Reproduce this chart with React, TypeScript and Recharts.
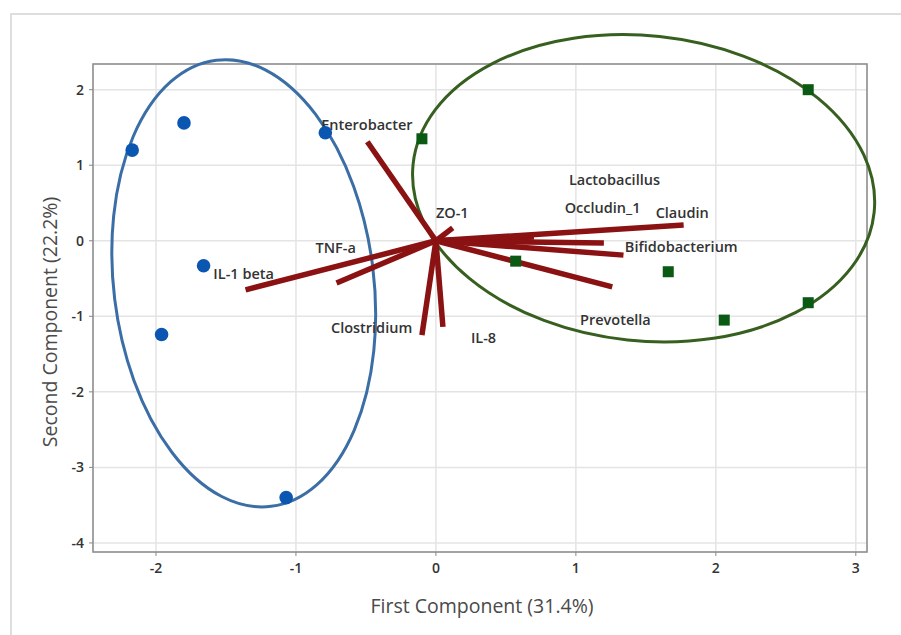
import React from 'react';
import {
  ScatterChart,
  Scatter,
  XAxis,
  YAxis,
  CartesianGrid,
  ReferenceLine,
  ReferenceArea,
  Label,
} from 'recharts';

// PCA biplot: sample scores for two groups plus variable loading vectors

const X_TICKS = [-2, -1, 0, 1, 2, 3];
const Y_TICKS = [-4, -3, -2, -1, 0, 1, 2];
const X_DOMAIN: [number, number] = [-2.45, 3.08];
const Y_DOMAIN: [number, number] = [-4.12, 2.34];

// group 1 scores (blue circles)
const GROUP1_X = [-2.17, -1.8, -0.79, -1.66, -1.96, -1.07];
const GROUP1_Y = [1.2, 1.56, 1.43, -0.33, -1.24, -3.4];

// group 2 scores (green squares)
const GROUP2_X = [-0.1, 2.66, 0.57, 1.66, 2.06, 2.66];
const GROUP2_Y = [1.35, 2.0, -0.27, -0.41, -1.05, -0.82];

// loading vectors
const VARIABLES = [
  'Enterobacter',
  'ZO-1',
  'TNF-a',
  'IL-1 beta',
  'Clostridium',
  'IL-8',
  'Lactobacillus',
  'Occludin_1',
  'Claudin',
  'Bifidobacterium',
  'Prevotella',
];
const LOAD_X = [-0.49, 0.12, -0.71, -1.36, -0.1, 0.05, 0.7, 1.2, 1.77, 1.34, 1.26];
const LOAD_Y = [1.31, 0.17, -0.56, -0.65, -1.25, -1.14, 0.05, -0.03, 0.21, -0.19, -0.61];

// where each variable name sits (left edge, vertical middle)
const LABEL_X = [-0.82, 0.0, -0.86, -1.59, -0.75, 0.25, 0.95, 0.92, 1.57, 1.35, 1.03];
const LABEL_Y = [1.53, 0.37, -0.09, -0.44, -1.15, -1.29, 0.81, 0.44, 0.37, -0.08, -1.05];

// group ellipses: centre, semi-axes (data units), tilt in degrees
const ELLIPSE_CX = [-1.373, 1.484];
const ELLIPSE_CY = [-0.563, 0.695];
const ELLIPSE_RX = [0.929, 1.656];
const ELLIPSE_RY = [2.975, 2.02];
const ELLIPSE_TILT = [-7, 6];
const ELLIPSE_COLORS = ['#3b6ea5', '#375f1f'];

const group1 = GROUP1_X.map((x, i) => ({ x, y: GROUP1_Y[i] }));
const group2 = GROUP2_X.map((x, i) => ({ x, y: GROUP2_Y[i] }));
const labels = VARIABLES.map((name, i) => ({ x: LABEL_X[i], y: LABEL_Y[i], name }));

const FONT = '"Open Sans", "Noto Sans", sans-serif';
const TICK = { fill: '#333', fontSize: 14, fontWeight: 600, fontFamily: FONT };

const BlueDot = (p: any) => <circle cx={p.cx} cy={p.cy} r={6.8} fill="#0b56b0" />;
const GreenSquare = (p: any) => (
  <rect x={p.cx - 5.5} y={p.cy - 5.5} width={11} height={11} fill="#0a5a14" />
);
const VarLabel = (p: any) => (
  <text
    x={p.cx}
    y={p.cy}
    dy="0.35em"
    fill="#333"
    fontSize={14.5}
    fontWeight={600}
    fontFamily={FONT}
  >
    {p.payload.name}
  </text>
);

const makeEllipse = (tilt: number, color: string) => (p: any) => {
  const w = Math.abs(p.width);
  const h = Math.abs(p.height);
  const x0 = Math.min(p.x, p.x + p.width);
  const y0 = Math.min(p.y, p.y + p.height);
  const cx = x0 + w / 2;
  const cy = y0 + h / 2;
  return (
    <ellipse
      cx={cx}
      cy={cy}
      rx={w / 2}
      ry={h / 2}
      fill="none"
      stroke={color}
      strokeWidth={3}
      transform={`rotate(${tilt} ${cx} ${cy})`}
    />
  );
};

const XTitle = ({ viewBox }: any) => (
  <text
    x={viewBox.x + viewBox.width / 2 + 2}
    y={viewBox.y + 53}
    textAnchor="middle"
    dominantBaseline="central"
    fill="#4a4a4a"
    fontSize={19.5}
    fontFamily={FONT}
  >
    First Component (31.4%)
  </text>
);

const YTitle = ({ viewBox }: any) => {
  const cx = viewBox.x + 49;
  const cy = viewBox.y + viewBox.height / 2 + 14;
  return (
    <text
      x={cx}
      y={cy}
      transform={`rotate(-90 ${cx} ${cy})`}
      textAnchor="middle"
      dominantBaseline="central"
      fill="#4a4a4a"
      fontSize={19.5}
      fontFamily={FONT}
    >
      Second Component (22.2%)
    </text>
  );
};

export default function App() {
  return (
    <div style={{ position: 'absolute', left: 0, top: 0, width: 901, height: 635, background: '#fff' }}>
      <div
        style={{
          position: 'absolute',
          left: 10,
          top: 13,
          right: 0,
          bottom: 0,
          borderTop: '2px solid #dedede',
          borderLeft: '2px solid #dedede',
        }}
      />
      <ScatterChart
        width={901}
        height={635}
        margin={{ top: 64, right: 34, bottom: 20, left: 0 }}
        style={{ position: 'absolute', left: 0, top: 0 }}
      >
        <CartesianGrid stroke="#e4e4e4" strokeWidth={1.5} />
        <XAxis
          type="number"
          dataKey="x"
          domain={X_DOMAIN}
          ticks={X_TICKS}
          allowDataOverflow
          height={63}
          axisLine={false}
          tickLine={{ stroke: '#888' }}
          tickSize={4}
          tickMargin={7}
          tick={TICK}
        >
          <Label content={<XTitle />} />
        </XAxis>
        <YAxis
          type="number"
          dataKey="y"
          domain={Y_DOMAIN}
          ticks={Y_TICKS}
          allowDataOverflow
          width={93}
          axisLine={false}
          tickLine={{ stroke: '#888' }}
          tickSize={4}
          tickMargin={5}
          tick={TICK}
        >
          <Label content={<YTitle />} />
        </YAxis>

        <ReferenceArea
          x1={X_DOMAIN[0]}
          x2={X_DOMAIN[1]}
          y1={Y_DOMAIN[0]}
          y2={Y_DOMAIN[1]}
          fill="none"
          fillOpacity={0}
          stroke="#8c8c8c"
          strokeWidth={1.5}
          ifOverflow="visible"
        />

        {VARIABLES.map((name, i) => (
          <ReferenceLine
            key={name}
            segment={[
              { x: 0, y: 0 },
              { x: LOAD_X[i], y: LOAD_Y[i] },
            ]}
            stroke="#8b1212"
            strokeWidth={5.5}
            ifOverflow="visible"
          />
        ))}

        <Scatter data={labels} shape={VarLabel} isAnimationActive={false} />

        {ELLIPSE_CX.map((cx, i) => (
          <ReferenceArea
            key={i}
            x1={cx - ELLIPSE_RX[i]}
            x2={cx + ELLIPSE_RX[i]}
            y1={ELLIPSE_CY[i] - ELLIPSE_RY[i]}
            y2={ELLIPSE_CY[i] + ELLIPSE_RY[i]}
            ifOverflow="visible"
            shape={makeEllipse(ELLIPSE_TILT[i], ELLIPSE_COLORS[i])}
          />
        ))}

        <Scatter data={group1} shape={BlueDot} isAnimationActive={false} />
        <Scatter data={group2} shape={GreenSquare} isAnimationActive={false} />
      </ScatterChart>
    </div>
  );
}
